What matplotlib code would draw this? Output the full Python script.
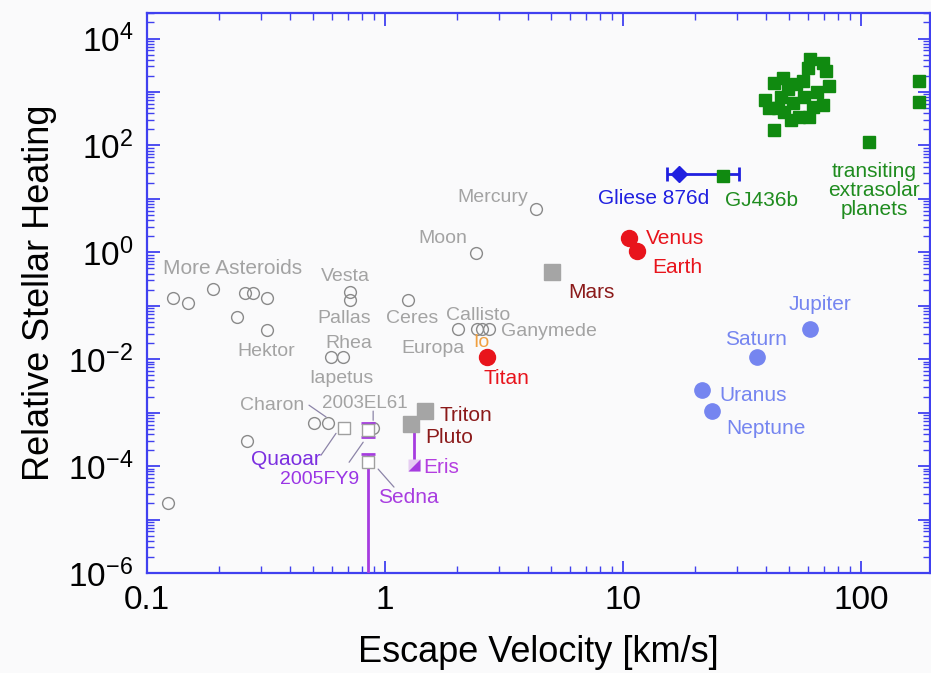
import numpy as np
import matplotlib
matplotlib.use("Agg")
import matplotlib.pyplot as plt
from matplotlib.ticker import FuncFormatter, LogLocator, NullFormatter

plt.rcParams['font.family'] = ['Liberation Sans', 'DejaVu Sans']
plt.rcParams['mathtext.default'] = 'regular'

# --- data (escape velocity km/s, relative stellar heating) ---
small_x = [0.1225, 0.1286, 0.1487, 0.189, 0.258, 0.279, 0.319, 0.239, 0.319, 0.263,
           0.713, 0.713, 1.249, 0.593, 0.667, 0.503, 0.575, 4.31, 2.41,
           2.03, 2.44, 2.56, 2.74, 0.891]
small_y = [2.0e-5, 0.138, 0.111, 0.204, 0.171, 0.171, 0.138, 0.061, 0.0348, 2.94e-4,
           0.179, 0.127, 0.127, 0.0109, 0.0109, 6.4e-4, 6.4e-4, 6.36, 0.96,
           0.036, 0.036, 0.036, 0.036, 5.1e-4]

hot_x = [10.6, 11.45, 2.68]            # Venus, Earth, Titan
hot_y = [1.83, 1.04, 0.0109]

grey_sq_x = [5.03, 1.47, 1.29]         # Mars, Triton, Pluto
grey_sq_y = [0.42, 1.07e-3, 6.1e-4]

giant_x = [61.1, 36.6, 21.5, 23.7]     # Jupiter, Saturn, Uranus, Neptune
giant_y = [0.036, 0.0109, 2.63e-3, 1.07e-3]

kbo_x = [0.673, 0.849, 0.849]          # Quaoar, 2005FY9, Sedna
kbo_y = [5.2e-4, 4.7e-4, 1.18e-4]
fy9_err = [1.22e-4, 1.67e-4]           # lower, upper
sedna_err = [1.18e-4 - 1e-7, 0.5e-4]

eris_x, eris_y = 1.32, 1.04e-4
eris_up = 4.7e-4 - 1.04e-4

gliese_x, gliese_y = 17.2, 28.7
gliese_xerr = [1.9, 13.5]

gj436_x, gj436_y = 26.3, 26.4

exo_x = [61.1, 59.9, 69.2, 71.2, 73.4, 47.0, 43.1, 49.4, 53.3, 57.0, 46.1, 41.1,
         44.8, 57.6, 62.9, 69.2, 50.8, 54.9, 60.5, 47.5, 43.1, 39.5, 52.0, 65.0,
         108.0, 175.0, 175.0]
exo_y = [4230, 2870, 3560, 2520, 1320, 1790, 1500, 1160, 1440, 1640, 789, 492,
         492, 789, 513, 560, 293, 334, 334, 414, 191, 700, 620, 980,
         114, 1640, 637]

# labels: (text, x, y, colour, size)
grey_txt = '#a3a3a3'
labels = [
    ("More Asteroids", 0.2276, 0.502, grey_txt, 15),
    ("Vesta", 0.679, 0.356, grey_txt, 14),
    ("Pallas", 0.673, 0.0584, grey_txt, 14),
    ("Ceres", 1.30, 0.0584, grey_txt, 14),
    ("Hektor", 0.316, 0.0141, grey_txt, 14),
    ("Rhea", 0.706, 0.0199, grey_txt, 14),
    ("Europa", 1.59, 0.0161, grey_txt, 14),
    ("Iapetus", 0.653, 4.4e-3, grey_txt, 14),
    ("Callisto", 2.46, 0.0664, grey_txt, 14),
    ("Ganymede", 4.89, 0.0334, grey_txt, 14),
    ("Io", 2.53, 0.0208, '#f0a040', 14),
    ("Charon", 0.335, 1.38e-3, grey_txt, 14),
    ("2003EL61", 0.824, 1.51e-3, grey_txt, 13.5),
    ("Mercury", 2.84, 10.7, grey_txt, 14),
    ("Moon", 1.75, 1.83, grey_txt, 14),
    ("Mars", 7.34, 0.179, '#8b1a1a', 15),
    ("Venus", 16.5, 1.83, '#e8141c', 15),
    ("Earth", 16.9, 0.525, '#e8141c', 15),
    ("Titan", 3.22, 4.4e-3, '#e8141c', 15),
    ("Triton", 2.19, 8.98e-4, '#8b1a1a', 15),
    ("Pluto", 1.86, 3.48e-4, '#8b1a1a', 15),
    ("Eris", 1.72, 9.6e-5, '#b43ee0', 15),
    ("Quaoar", 0.384, 1.35e-4, '#7b2fe0', 15),
    ("2005FY9", 0.528, 5.7e-5, '#9a35e5', 14),
    ("Sedna", 1.25, 2.6e-5, '#a83de0', 15),
    ("Gliese 876d", 13.4, 10.2, '#2020e0', 15),
    ("GJ436b", 38.0, 9.4, '#1f8c1f', 15),
    ("transiting\nextrasolar\nplanets", 113.4, 14.4, '#1f8c1f', 15),
    ("Jupiter", 67.3, 0.107, '#7585f0', 15),
    ("Saturn", 36.2, 0.0236, '#7585f0', 15),
    ("Uranus", 35.2, 2.12e-3, '#7585f0', 15),
    ("Neptune", 39.9, 5.1e-4, '#7585f0', 15),
]

# leader lines: (x0, y0, x1, y1)
leaders = [
    (0.479, 1.38e-3, 0.565, 8.3e-4),
    (0.891, 1.07e-3, 0.891, 7.2e-4),
    (0.538, 1.6e-4, 0.622, 4.1e-4),
    (0.706, 1.18e-4, 0.809, 2.8e-4),
    (0.935, 8.8e-5, 1.09, 4.05e-5),
]

axis_blue = '#4040f0'

fig = plt.figure(figsize=(9.31, 6.73), dpi=100, facecolor='#fafafb')
ax = fig.add_axes([0.158, 0.1486, 0.841, 0.832])
ax.set_facecolor('#fafafb')
ax.set_xscale('log')
ax.set_yscale('log')
ax.set_xlim(0.1, 195)
ax.set_ylim(1e-6, 3e4)

# small bodies, open grey circles
ax.plot(small_x, small_y, 'o', ms=8.5, mfc='none', mec='#8a8a8a', mew=1.0, zorder=3)

# purple vertical links / error bars
purple = '#a63ce0'
ax.errorbar(kbo_x[1], kbo_y[1], yerr=[[fy9_err[0]], [fy9_err[1]]], fmt='none',
            ecolor=purple, elinewidth=2, capsize=5, capthick=2, zorder=4)
ax.errorbar(kbo_x[2], kbo_y[2], yerr=[[sedna_err[0]], [sedna_err[1]]], fmt='none',
            ecolor=purple, elinewidth=2, capsize=5, capthick=2, zorder=4)
ax.errorbar(eris_x, eris_y, yerr=[[0], [eris_up]], fmt='none',
            ecolor=purple, elinewidth=2, zorder=4)

# KBO open squares
ax.plot(kbo_x, kbo_y, 's', ms=8.5, mfc='white', mec='#a0a0a0', mew=1.0, zorder=5)

# Eris half-filled square
ax.plot(eris_x, eris_y, 's', ms=9, mfc='#e6cdf2', mec='none', zorder=5)
ax.plot(eris_x, eris_y, marker=[(-1, -1), (1, -1), (1, 1)], ms=9, mfc=purple,
        mec='none', zorder=6)

# grey filled squares
ax.plot(grey_sq_x, grey_sq_y, 's', ms=11, color='#a5a5a5', zorder=5)

# hot bodies
ax.plot(hot_x, hot_y, 'o', ms=11.5, color='#e8141c', zorder=5)

# giant planets
ax.plot(giant_x, giant_y, 'o', ms=11, color='#7585f0', zorder=5)

# Gliese 876d
ax.errorbar(gliese_x, gliese_y, xerr=[[gliese_xerr[0]], [gliese_xerr[1]]], fmt='D',
            ms=8, color='#2020e0', elinewidth=2, capsize=5, capthick=2, zorder=5)

# exoplanets
ax.plot(exo_x, exo_y, 's', ms=8, color='#108a10', zorder=5)
ax.plot(gj436_x, gj436_y, 's', ms=8, color='#108a10', zorder=6)

for x0, y0, x1, y1 in leaders:
    ax.annotate("", xy=(x1, y1), xytext=(x0, y0),
                arrowprops=dict(arrowstyle='-', color='#8c84a8', lw=0.9,
                                shrinkA=0, shrinkB=0))

for txt, x, y, c, s in labels:
    ax.text(x, y, txt, color=c, fontsize=s, ha='center', va='center',
            linespacing=1.0, zorder=7)

# axes styling
for sp in ax.spines.values():
    sp.set_color(axis_blue)
    sp.set_linewidth(1.6)

ax.xaxis.set_major_locator(LogLocator(base=10, numticks=10))
ax.yaxis.set_major_locator(LogLocator(base=10, numticks=20))
ax.xaxis.set_minor_locator(LogLocator(base=10, subs=np.arange(2, 10), numticks=20))
ax.yaxis.set_minor_locator(LogLocator(base=10, subs=np.arange(2, 10), numticks=30))


def xfmt(v, pos):
    return "%g" % v


def yfmt(v, pos):
    p = int(round(np.log10(v)))
    if p % 2:
        return ""
    return r'$10^{%d}$' % p


ax.xaxis.set_major_formatter(FuncFormatter(xfmt))
ax.yaxis.set_major_formatter(FuncFormatter(yfmt))
ax.xaxis.set_minor_formatter(NullFormatter())
ax.yaxis.set_minor_formatter(NullFormatter())

ax.tick_params(which='both', direction='in', top=True, right=True,
               color=axis_blue, labelsize=24)
ax.tick_params(which='major', length=9, width=1.3)
ax.tick_params(which='minor', length=5, width=1.0)
ax.tick_params(axis='x', pad=9)
ax.tick_params(axis='y', pad=10)

ax.set_xlabel("Escape Velocity [km/s]", fontsize=26, labelpad=13)
ax.set_ylabel("Relative Stellar Heating", fontsize=26, labelpad=8)

fig.savefig("out.png", dpi=100, facecolor=fig.get_facecolor())
